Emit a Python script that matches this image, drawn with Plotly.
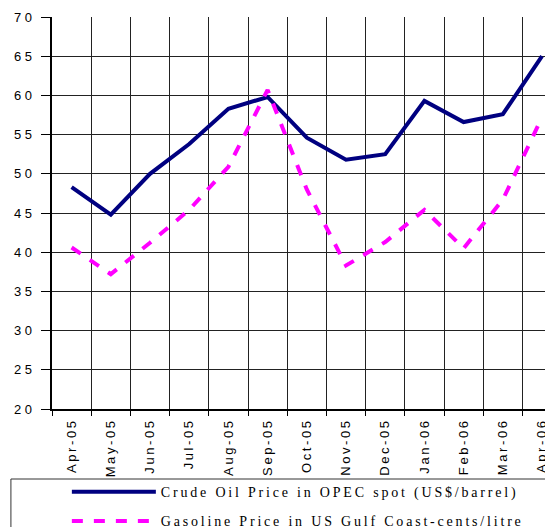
import plotly.graph_objects as go

months = ["Apr-05", "May-05", "Jun-05", "Jul-05", "Aug-05", "Sep-05", "Oct-05",
          "Nov-05", "Dec-05", "Jan-06", "Feb-06", "Mar-06", "Apr-06"]
crude_oil = [48.3, 44.8, 50.0, 53.8, 58.3, 59.8, 54.6, 51.8, 52.5, 59.3, 56.6, 57.6, 65.0]
gasoline = [40.6, 37.2, 41.2, 45.4, 50.9, 60.7, 48.0, 38.3, 41.3, 45.4, 40.5, 46.7, 57.2]
y_ticks = [20, 25, 30, 35, 40, 45, 50, 55, 60, 65, 70]

crude_name = "Crude Oil Price in OPEC spot (US$/barrel)"
gas_name = "Gasoline Price in US Gulf Coast-cents/litre"

# old Excel charts spread their letters out a bit
def spread(s, sep="\u2009"):
    return sep.join(s)

fig = go.Figure()
fig.add_trace(go.Scatter(x=months, y=crude_oil, mode="lines", name=spread(crude_name),
                         line=dict(color="#000080", width=4), legendgroup="a"))
fig.add_trace(go.Scatter(x=months, y=gasoline, mode="lines", name=spread(gas_name),
                         line=dict(color="#FF00FF", width=4, dash="11px,11px"), legendgroup="b"))

# legend frame runs off the right and bottom edge like in the original
fig.add_shape(type="rect", xref="paper", yref="paper", x0=-0.082, x1=1.3, y0=-0.6, y1=-0.1786,
              line=dict(color="#333", width=1), fillcolor="rgba(0,0,0,0)", layer="below")

# y labels placed by hand so they sit closer to the ticks
for v in y_ticks:
    fig.add_annotation(x=0, xref="paper", y=v, yref="y", text=spread(str(v), " "),
                       showarrow=False, xanchor="right", yanchor="middle", xshift=-18,
                       font=dict(family="Liberation Sans, Arial", size=13, color="black"))

# page body has an 8px margin, so the figure is 8px smaller than the window
fig.update_layout(
    width=545, height=519,
    margin=dict(l=44, r=0, t=9, b=118, autoexpand=False),
    paper_bgcolor="white", plot_bgcolor="white",
    font=dict(family="Liberation Sans, Arial", color="black"),
    showlegend=True,
    legend=dict(xref="container", yref="container", x=0.108, y=0.098,
                xanchor="left", yanchor="top",
                font=dict(family="Liberation Serif, Times New Roman", size=14, color="black"),
                itemwidth=84, tracegroupgap=8, traceorder="grouped",
                bgcolor="rgba(0,0,0,0)"),
    xaxis=dict(type="category", range=[-0.5, 12.28], tickson="boundaries",
               tickvals=months, ticktext=[spread(m) for m in months],
               tickangle=-90, tickfont=dict(size=13), automargin=False,
               showgrid=True, gridcolor="#222", gridwidth=1,
               ticks="outside", ticklen=5, tickcolor="black", ticklabelstandoff=5,
               showline=True, linecolor="black", linewidth=1.5, zeroline=False),
    yaxis=dict(range=[20, 70], tickvals=y_ticks, showticklabels=False, automargin=False,
               showgrid=True, gridcolor="#222", gridwidth=1,
               ticks="outside", ticklen=9, tickcolor="black",
               showline=True, linecolor="black", linewidth=1.5, zeroline=False),
)

fig.write_html("out.html")
